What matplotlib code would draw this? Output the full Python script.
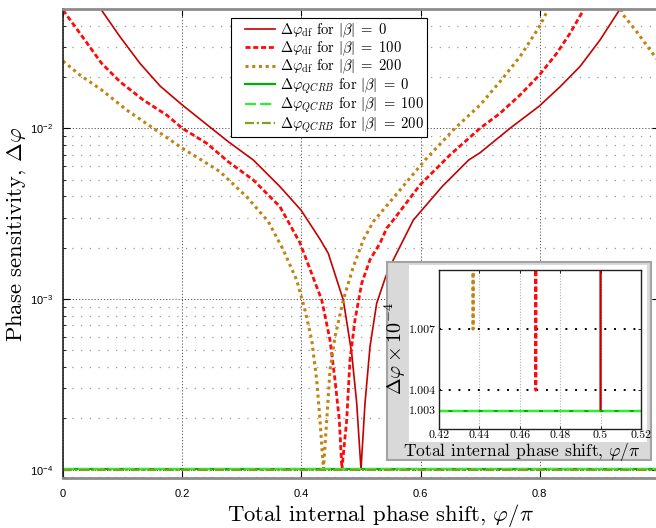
import numpy as np
import matplotlib
matplotlib.use("Agg")
import matplotlib.pyplot as plt
from matplotlib.patches import Rectangle
from matplotlib.lines import Line2D
from matplotlib.legend_handler import HandlerLine2D
from matplotlib.font_manager import FontProperties
from matplotlib.ticker import NullFormatter, LogLocator

plt.rcParams["font.family"] = ["Liberation Sans", "DejaVu Sans"]
plt.rcParams["mathtext.fontset"] = "custom"
plt.rcParams["mathtext.rm"] = "Liberation Sans"
plt.rcParams["mathtext.it"] = "Liberation Sans:italic"
plt.rcParams["mathtext.bf"] = "Liberation Sans:bold"

nan = np.nan

# Total internal phase shift (units of pi) and phase sensitivity, difference-intensity detection
phi_df_b0 = [0.0633, 0.0956, 0.1292, 0.1628, 0.2002, 0.2492, 0.2773, 0.3193, 0.3641,
             0.3993, 0.4312, 0.4451, 0.4703, 0.4844, 0.4928, 0.5000, 0.5067, 0.5151,
             0.5263, 0.5414, 0.5525, 0.5878, 0.6359, 0.6807, 0.6997, 0.7500, 0.7992,
             0.8339, 0.8674, 0.9010, 0.9346]
dphi_df_b0 = [5.00e-2, 3.44e-2, 2.40e-2, 1.77e-2, 1.369e-2, 1.00e-2, 8.35e-3, 6.52e-3, 4.55e-3,
              3.32e-3, 2.24e-3, 1.85e-3, 9.86e-4, 4.81e-4, 2.45e-4, 1.003e-4, 2.45e-4, 5.26e-4,
              9.44e-4, 1.35e-3, 1.65e-3, 2.90e-3, 4.55e-3, 6.52e-3, 7.19e-3, 1.00e-2, 1.35e-2,
              1.75e-2, 2.30e-2, 3.29e-2, 5.00e-2]

phi_df_b100 = [0.0, 0.0285, 0.0649, 0.0956, 0.1347, 0.1740, 0.2002, 0.2411, 0.2773, 0.3193,
               0.3641, 0.3977, 0.4341, 0.4480, 0.4564, 0.4636, 0.4680, 0.4760, 0.4815, 0.4899,
               0.5012, 0.5151, 0.5319, 0.5431, 0.5542, 0.5990, 0.6493, 0.6997, 0.7332, 0.7668,
               0.7992, 0.8284, 0.8507, 0.8742]
dphi_df_b100 = [4.93e-2, 3.60e-2, 2.40e-2, 1.875e-2, 1.465e-2, 1.196e-2, 1.00e-2, 8.17e-3, 6.37e-3,
                4.98e-3, 3.47e-3, 2.13e-3, 9.86e-4, 5.75e-4, 3.35e-4, 1.955e-4, 1.004e-4, 1.955e-4,
                4.39e-4, 7.53e-4, 1.236e-3, 1.70e-3, 2.12e-3, 2.60e-3, 2.90e-3, 4.66e-3, 6.98e-3,
                1.00e-2, 1.224e-2, 1.567e-2, 2.05e-2, 2.75e-2, 3.60e-2, 5.00e-2]

phi_df_b200 = [0.0, 0.0285, 0.0649, 0.1069, 0.1515, 0.2002, 0.2411, 0.2634, 0.3082, 0.3445,
               0.3696, 0.3921, 0.4060, 0.4173, 0.4257, 0.4312, 0.4370, 0.4425, 0.4480, 0.4564,
               0.4703, 0.4871, 0.5039, 0.5206, 0.5654, 0.6074, 0.6577, 0.6997, 0.7332, 0.7668,
               0.7992, 0.8143, nan, 0.9362, 0.9401, 0.9626, 0.9933, 1.0]
dphi_df_b200 = [2.48e-2, 2.05e-2, 1.677e-2, 1.28e-2, 1.00e-2, 7.64e-3, 6.24e-3, 5.57e-3, 3.97e-3,
                2.84e-3, 1.94e-3, 1.29e-3, 8.62e-4, 5.75e-4, 3.35e-4, 1.955e-4, 1.007e-4, 1.955e-4,
                3.84e-4, 6.01e-4, 9.86e-4, 1.545e-3, 2.22e-3, 2.84e-3, 4.35e-3, 6.52e-3, 1.00e-2,
                1.369e-2, 1.875e-2, 2.63e-2, 3.94e-2, 5.00e-2, nan, 5.00e-2, 4.61e-2, 3.68e-2,
                2.63e-2, 2.48e-2]

# Quantum Cramer-Rao bound (flat in phase)
phi_qcrb = [0.0, 1.0]
dphi_qcrb_b0 = [1.003e-4, 1.003e-4]
dphi_qcrb_b100 = [1.003e-4, 1.003e-4]
dphi_qcrb_b200 = [1.001e-4, 1.001e-4]

beta_values = [0, 100, 200]
x_ticks = [0, 0.2, 0.4, 0.6, 0.8]
x_tick_labels = ["0", "0.2", "0.4", "0.6", "0.8"]
inset_x_ticks = [0.42, 0.44, 0.46, 0.48, 0.50, 0.52]
inset_x_tick_labels = ["0.42", "0.44", "0.46", "0.48", "0.5", "0.52"]
inset_y_ticks = [1.003, 1.004, 1.007]
inset_y_tick_labels = ["1.003", "1.004", "1.007"]

df_series = [(phi_df_b0, dphi_df_b0), (phi_df_b100, dphi_df_b100), (phi_df_b200, dphi_df_b200)]
qcrb_series = [dphi_qcrb_b0, dphi_qcrb_b100, dphi_qcrb_b200]

df_styles = [dict(color="#c40000", lw=1.2, ls="-"),
             dict(color="#ff0a0a", lw=2.0, ls=(0, (1.8, 1.0))),
             dict(color="#c08410", lw=2.2, ls=(0, (1, 1.2)))]
qcrb_styles = [dict(color="#00b000", lw=1.6, ls="-"),
               dict(color="#2cf02c", lw=1.6, ls=(0, (5.0, 1.8))),
               dict(color="#80a020", lw=1.6, ls=(0, (4.0, 1.3, 1, 1.3)))]

W, H = 656, 528
fig = plt.figure(figsize=(W / 100, H / 100), dpi=100)


def px_box(x0, y0, x1, y1):
    """Pixel box (origin top-left) -> figure-fraction rectangle."""
    return [x0 / W, 1 - y1 / H, (x1 - x0) / W, (y1 - y0) / H]


cm_small = FontProperties(family="cmr10", size=10.5, math_fontfamily="cm")
cm_label = FontProperties(family="cmr10", size=16.3, math_fontfamily="cm")

# ---------------- main axes ----------------
ax = fig.add_axes(px_box(63, 9, 659, 477.7))
ax.set_yscale("log")

for (x, y), st, b in zip(df_series, df_styles, beta_values):
    ax.plot(x, y, label=r"$\Delta\varphi_{\mathrm{df}}$ for $|\beta|\;=\;%d$" % b, **st)
for y, st, b in zip(qcrb_series, qcrb_styles, beta_values):
    ax.plot(phi_qcrb, y, label=r"$\Delta\varphi_{QCRB}$ for $|\beta|\;=\;%d$" % b, **st)

ax.set_xlim(0, 1)
ax.set_ylim(8.975e-5, 5.0e-2)
ax.set_xticks(x_ticks)
ax.set_xticklabels(x_tick_labels)
ax.yaxis.set_major_locator(LogLocator(base=10, numticks=10))
ax.yaxis.set_minor_locator(LogLocator(base=10, subs=np.arange(2, 10), numticks=20))
ax.yaxis.set_minor_formatter(NullFormatter())

ax.tick_params(which="major", direction="in", length=5, width=0.8, top=True, right=True,
               labelsize=8, colors="k")
ax.tick_params(which="minor", direction="in", length=2.5, width=0.6, top=True, right=True)
ax.tick_params(axis="x", pad=8)
ax.tick_params(axis="y", pad=7)

ax.grid(which="major", color="#555555", lw=0.7, ls=(0, (1.2, 2)))
ax.grid(which="minor", axis="y", color="#9a9a9a", lw=0.9, ls=(0, (1, 6)))

ax.spines["left"].set_color("#222222")
ax.spines["left"].set_linewidth(1.2)
for side in ("top", "bottom", "right"):
    ax.spines[side].set_color("#8c8c8c")
    ax.spines[side].set_linewidth(2.0)

ax.set_xlabel(r"Total internal phase shift, $\varphi/\pi$", fontproperties=cm_label)
ax.xaxis.set_label_coords(0.532, -0.0817)
ax.xaxis.label.set_va("center")
ax.set_ylabel(r"Phase sensitivity, $\Delta\varphi$", fontproperties=cm_label)
ax.yaxis.set_label_coords(-0.0789, 0.518)
ax.yaxis.label.set_va("center")

leg = ax.legend(loc="upper left", bbox_to_anchor=(230.7 / W, 1 - 18.3 / H),
                bbox_transform=fig.transFigure, borderaxespad=0, borderpad=0.2,
                handlelength=2.85, handletextpad=0.33, labelspacing=0.0,
                prop=cm_small, fancybox=False, framealpha=1, edgecolor="k",
                handler_map={Line2D: HandlerLine2D(xpad=0.78)})
leg.get_frame().set_linewidth(0.8)

# ---------------- inset (zoom on the minima) ----------------
fig.add_artist(Rectangle((386.7 / W, 1 - 460 / H), (651 - 386.7) / W, (460 - 261.7) / H,
                         transform=fig.transFigure, facecolor="#d9d9d9",
                         edgecolor="#a3a3a3", lw=1.5, zorder=3))
fig.add_artist(Rectangle((409.3 / W, 1 - 441.7 / H), (646.7 - 409.3) / W, (441.7 - 265) / H,
                         transform=fig.transFigure, facecolor="white",
                         edgecolor="none", zorder=3.5))

axi = fig.add_axes(px_box(438.7, 270, 641, 429), zorder=5)
scale = 1e-4
for (x, y), st in zip(df_series, df_styles):
    axi.plot(x, np.array(y) / scale, **st)
for y, st in zip(qcrb_series, qcrb_styles):
    axi.plot(phi_qcrb, np.array(y) / scale, **st)

axi.set_xlim(0.42, 0.52)
axi.set_ylim(1.0021, 1.0099)
axi.set_xticks(inset_x_ticks)
axi.set_xticklabels(inset_x_tick_labels)
axi.set_yticks(inset_y_ticks)
axi.set_yticklabels(inset_y_tick_labels)
axi.tick_params(direction="in", length=2.5, width=0.6, top=True, right=True,
                labelsize=8.5, labelfontfamily="cmr10")
axi.tick_params(axis="x", pad=1)
axi.tick_params(axis="y", pad=2)
axi.grid(axis="x", color="#b0b0b0", lw=0.8, ls=(0, (1, 1.5)))
axi.grid(axis="y", color="k", lw=1.4, ls=(0, (1, 4)))
for sp in axi.spines.values():
    sp.set_color("#222222")
    sp.set_linewidth(1.0)

fig.text(395 / W, 1 - 348 / H, r"$\Delta\varphi \times 10^{-4}$", rotation=90,
         ha="center", va="center", fontsize=14.5, math_fontfamily="cm", zorder=6)
fig.text(522 / W, 1 - 452 / H, r"Total internal phase shift, $\varphi/\pi$",
         ha="center", va="center", fontproperties=FontProperties(family="cmr10", size=12.6,
                                                                  math_fontfamily="cm"),
         zorder=6)

fig.savefig("out.png", dpi=100)
